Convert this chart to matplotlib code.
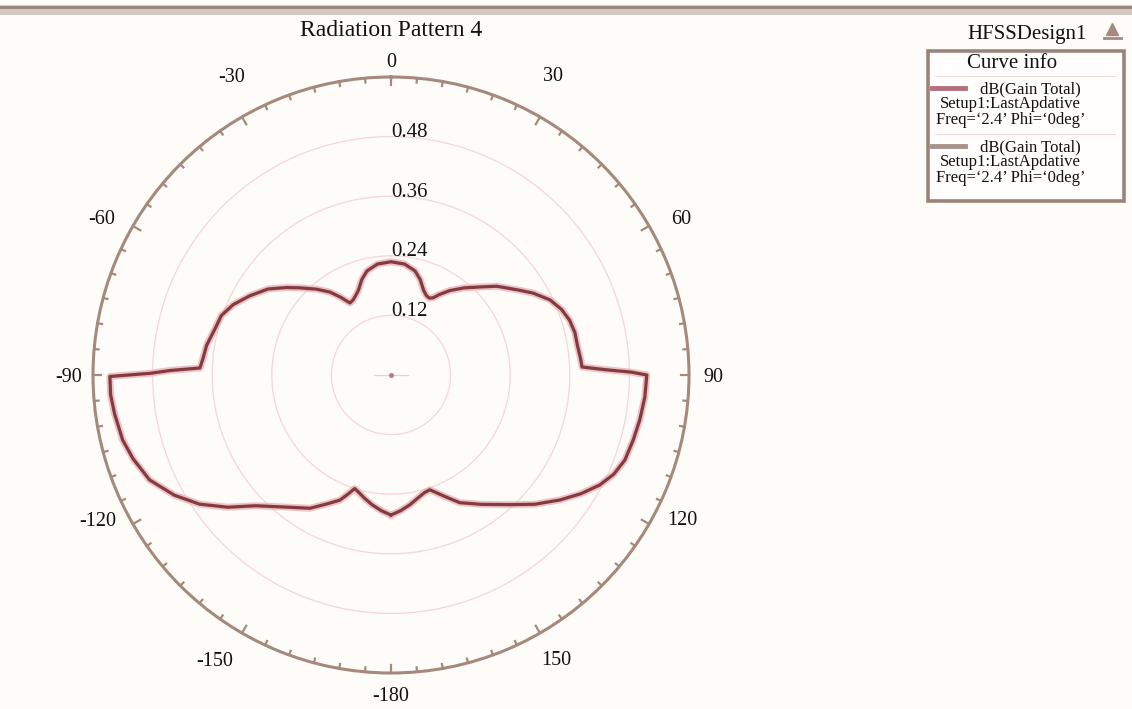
import numpy as np
import matplotlib.pyplot as plt
from matplotlib.patches import FancyBboxPatch, Rectangle
from matplotlib.lines import Line2D

plt.rcParams["font.family"] = ["Liberation Serif", "DejaVu Serif"]

# gain pattern, theta in degrees (0 = top, clockwise)
theta_deg = [-180, -176, -171.7, -168, -165, -162.3, -160, -157.8, -154, -148.7,
             -141, -134, -129, -124, -119, -113.5, -108, -103.6, -98, -94,
             -90.3, -89.6, -88.8, -87.9, -85, -80.8, -75, -70.7, -66, -60.7,
             -55, -50, -46.3, -41, -36.3, -33, -29.7, -27, -24, -21,
             -17, -13, -7, 0, 7, 13, 17, 21, 24, 26.5,
             28.6, 31, 34.8, 40, 45.3, 50, 56.6, 60, 64.7, 69,
             72.9, 77, 80.9, 85, 87.6, 88.6, 89.3, 90, 95, 100.2,
             105, 110, 114, 117.8, 122, 126.5, 132, 137.5, 145, 151.7,
             156, 161.3, 164, 167, 171.7, 176, 180]
gain = [0.282, 0.274, 0.264, 0.254, 0.246, 0.240, 0.256, 0.272, 0.288, 0.314,
        0.342, 0.379, 0.423, 0.465, 0.499, 0.530, 0.546, 0.556, 0.562, 0.566,
        0.566, 0.485, 0.443, 0.385, 0.380, 0.376, 0.366, 0.362, 0.348, 0.326,
        0.302, 0.274, 0.254, 0.229, 0.207, 0.187, 0.167, 0.169, 0.175, 0.183,
        0.201, 0.215, 0.225, 0.228, 0.225, 0.215, 0.201, 0.183, 0.175, 0.173,
        0.177, 0.189, 0.207, 0.229, 0.252, 0.278, 0.310, 0.330, 0.354, 0.368,
        0.376, 0.380, 0.380, 0.383, 0.385, 0.433, 0.483, 0.515, 0.513, 0.509,
        0.505, 0.501, 0.491, 0.475, 0.451, 0.423, 0.389, 0.354, 0.318, 0.292,
        0.268, 0.244, 0.246, 0.252, 0.264, 0.274, 0.282]

r_max = 0.6
ring_values = [0.12, 0.24, 0.36, 0.48]
ring_labels = ["0.12", "0.24", "0.36", "0.48"]
angle_labels = ["0", "30", "60", "90", "120", "150", "-180",
                "-150", "-120", "-90", "-60", "-30"]
angle_label_pos = [0, 28.5, 61.8, 90.5, 116.6, 149.9, 180,
                   -148.3, -116.5, -90.5, -61.7, -28.1]
angle_label_r = [0.630, 0.683, 0.662, 0.650, 0.655, 0.665, 0.648,
                 0.677, 0.660, 0.650, 0.661, 0.680]

legend_trace = "dB(Gain Total)"
legend_setup = "Setup1:LastApdative"
legend_freq = "Freq=\u20182.4\u2019 Phi=\u20180deg\u2019"

bg = "#fefcf9"
frame_col = "#a5897c"
curve_col = "#823c40"
halo_col = "#eaa9b1"

fig = plt.figure(figsize=(11.32, 7.09), dpi=100, facecolor=bg)

# header strip across the window
fig.patches.append(Rectangle((0, 1 - 15 / 709), 1, 10 / 709, transform=fig.transFigure,
                             facecolor="#d3c8c2", edgecolor="none"))
fig.patches.append(Rectangle((0, 1 - 9 / 709), 1, 3 / 709, transform=fig.transFigure,
                             facecolor="#9d8780", edgecolor="none"))

ax = fig.add_axes([93 / 1132, 36 / 709, 596 / 1132, 596 / 709], projection="polar")
ax.set_facecolor(bg)
ax.set_theta_zero_location("N")
ax.set_theta_direction(-1)
ax.set_ylim(0, r_max)
ax.set_xticks([])
ax.set_yticks([])
ax.grid(False)
ax.spines["polar"].set_color(frame_col)
ax.spines["polar"].set_linewidth(2.2)

# grid rings
phi = np.linspace(0, 2 * np.pi, 361)
for rv in ring_values:
    ax.plot(phi, np.full_like(phi, rv), color="#f5d6d6", lw=0.9, zorder=1)
ax.plot([np.pi / 2, 3 * np.pi / 2], [0.035, 0.035], color="#f2cccc", lw=0.9, zorder=1)
ax.plot([0], [0], "o", color="#b07a7a", ms=2.5, zorder=2)

# inward ticks on the outer ring
for a in range(0, 360, 5):
    length = 0.017 if a % 30 == 0 else 0.009
    ax.plot([np.radians(a)] * 2, [r_max, r_max - length], color=frame_col,
            lw=1.6, clip_on=False, zorder=3)

# curves
th = np.radians(theta_deg)
ax.plot(th, gain, color=halo_col, lw=5.0, alpha=0.7, zorder=4,
        solid_joinstyle="round")
ax.plot(th, gain, color=curve_col, lw=2.3, zorder=5, solid_joinstyle="round")

# labels
for rv, lab in zip(ring_values, ring_labels):
    ax.text(0.0, rv + 0.008, lab, ha="left", va="center", fontsize=15,
            color="#111111", zorder=6)
for lab, a, rr in zip(angle_labels, angle_label_pos, angle_label_r):
    ax.text(np.radians(a), rr, lab, ha="center", va="center", fontsize=14.5,
            color="#111111", clip_on=False)

fig.text(391 / 1132, 1 - 31 / 709, "Radiation Pattern 4", ha="center", va="center",
         fontsize=17, color="#111111")

# legend panel
fig.text(1027 / 1132, 1 - 34 / 709, "HFSSDesign1", ha="center", va="center",
         fontsize=15, color="#111111")
fig.add_artist(Line2D([1112 / 1132], [1 - 29 / 709], marker="^", ms=8,
                      color="#a58a7e", transform=fig.transFigure))
fig.add_artist(Line2D([1104 / 1132, 1121 / 1132], [1 - 38 / 709] * 2, lw=2,
                      color="#a58a7e", transform=fig.transFigure))
fig.patches.append(FancyBboxPatch((928 / 1132, 1 - 201 / 709), 196 / 1132, 150 / 709,
                                  boxstyle="square,pad=0", transform=fig.transFigure,
                                  facecolor="#fffefc", edgecolor="#9a8379", lw=2.6))
fig.text(1012 / 1132, 1 - 63 / 709, "Curve info", ha="center", va="center",
         fontsize=15, color="#111111")
entry_colors = ["#b46f7b", "#a8928a"]
for i, col in enumerate(entry_colors):
    y0 = 88 + i * 58
    fig.add_artist(Line2D([932 / 1132, 965 / 1132], [1 - y0 / 709] * 2, lw=3.5,
                          color=col, transform=fig.transFigure))
    fig.add_artist(Line2D([935 / 1132, 1115 / 1132], [1 - (y0 - 12) / 709] * 2,
                          lw=0.8, color="#ecdcd8", transform=fig.transFigure))
    fig.text(1030 / 1132, 1 - (y0 + 1) / 709, legend_trace, ha="center",
             va="center", fontsize=12, color="#111111")
    fig.text(1010 / 1132, 1 - (y0 + 16) / 709, legend_setup, ha="center",
             va="center", fontsize=12, color="#111111")
    fig.text(1011 / 1132, 1 - (y0 + 32) / 709, legend_freq, ha="center",
             va="center", fontsize=12, color="#111111")

fig.savefig("out.png", dpi=100, facecolor=bg)
